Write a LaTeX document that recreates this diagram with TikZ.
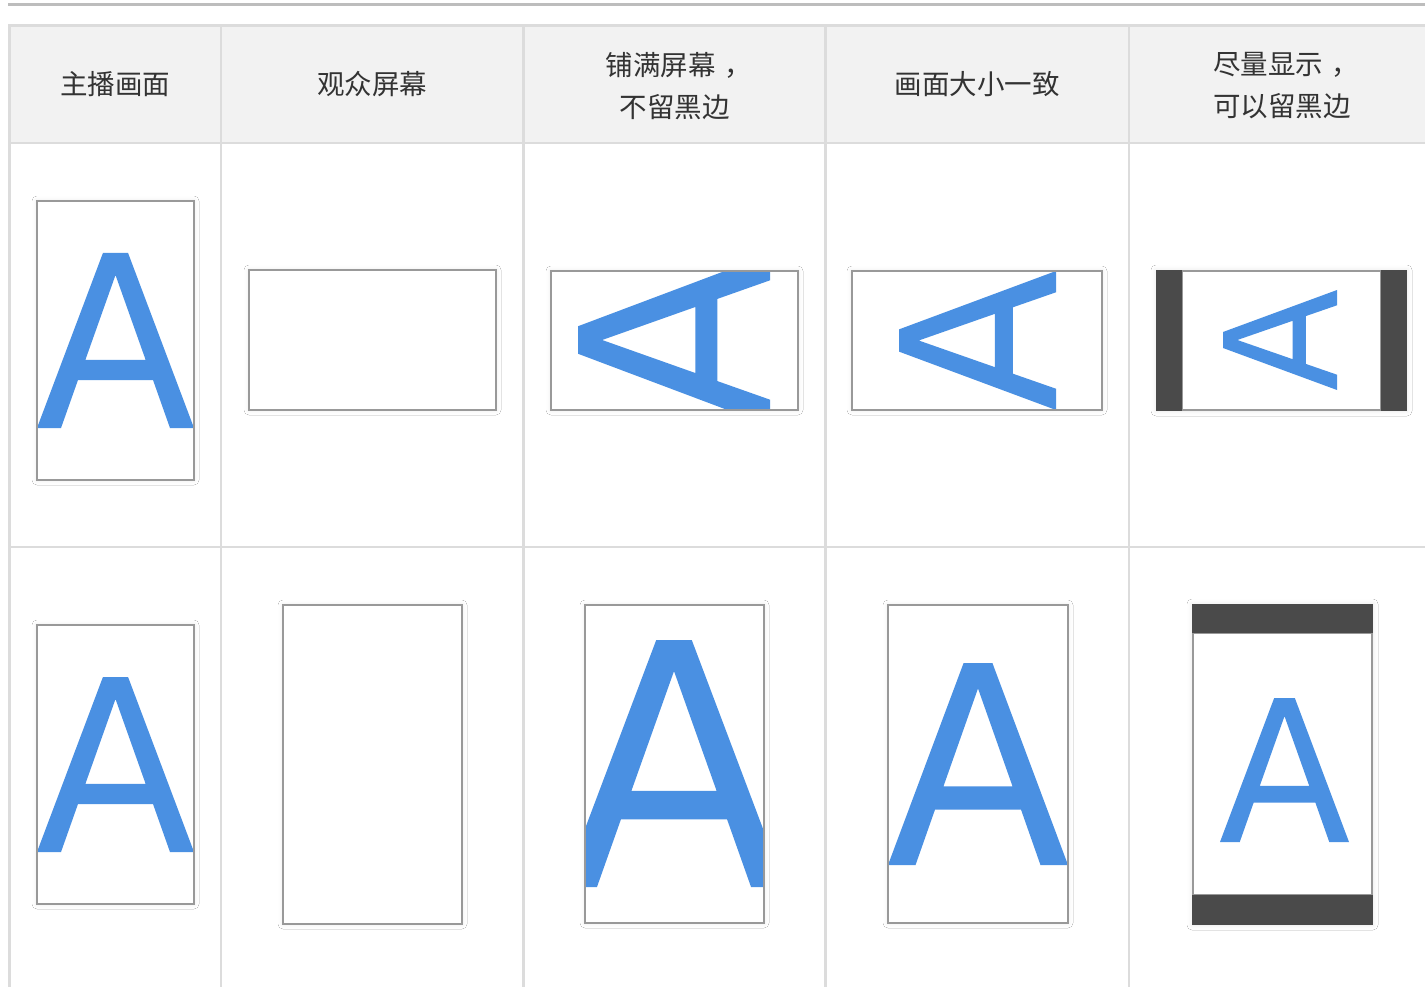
\documentclass[tikz,border=0pt]{standalone}
\usepackage{fontspec}
\newfontfamily\cjk{Noto Sans CJK SC}
\usetikzlibrary{shadows.blur}
\definecolor{rulec}{HTML}{BDBDBD}
\definecolor{gridc}{HTML}{DCDCDC}
\definecolor{headbg}{HTML}{F2F2F2}
\definecolor{txtc}{HTML}{333333}
\definecolor{framec}{HTML}{999999}
\definecolor{blueA}{HTML}{4A90E2}
\definecolor{barc}{HTML}{4A4A4A}
\tikzset{
  gridline/.style={draw=gridc, line width=2.5pt},
  head/.style={font=\cjk\fontsize{27.5}{42}\selectfont, text=txtc, align=center, inner sep=0pt},
  screenfill/.style={fill=white, blur shadow={shadow xshift=0pt, shadow yshift=0pt, shadow blur radius=5pt, shadow blur extra rounding=0pt, shadow opacity=9}},
  screenline/.style={draw=framec, line width=1.8pt},
  glyph/.style={fill=blueA, even odd rule},
  blackbar/.style={fill=barc},
}
\newcommand\letterA{%
  \fill[glyph] (0,0) -- (0.42,1) -- (0.58,1) -- (1,0) -- (0.847,0) -- (0.739,0.274)
    -- (0.261,0.274) -- (0.153,0) -- cycle
    (0.5,0.874) -- (0.308,0.389) -- (0.692,0.389) -- cycle;}
\newcommand\wcomma{\kern0.3em，\kern-0.3em}
\begin{document}
\begin{tikzpicture}[x=1pt,y=-1pt]
\useasboundingbox (0,0) rectangle (1425,987);
\fill[white] (0,0) rectangle (1425,987);
% top rule
\draw[rulec, line width=3pt] (8,4.5) -- (1425,4.5);
% header background
\fill[headbg] (9.5,25.5) rectangle (1425,143);
% grid
\draw[gridline] (8,25.5) -- (1425,25.5);
\draw[gridline] (8,143) -- (1425,143);
\draw[gridline] (8,547) -- (1425,547);
\foreach \gx in {9.5,221,523.5,825.5,1129}
  \draw[gridline] (\gx,24.3) -- (\gx,987);
% headers
\node[head] (h1) at (115,84) {主播画面};
\node[head] (h2) at (372,84) {观众屏幕};
\node[head] (h3) at (674.5,86) {铺满屏幕\wcomma\\不留黑边};
\node[head] (h4) at (977,84) {画面大小一致};
\node[head] (h5) at (1282,86) {尽量显示\wcomma\\可以留黑边};

% ===== Row 1 =====
% col 1
\path[screenfill] (37,201) rectangle (194,480);
\begin{scope}[shift={(37,428)}, x={(157pt,0pt)}, y={(0pt,175pt)}] \letterA \end{scope}
\draw[screenline] (37,201) rectangle (194,480);
% col 2
\path[screenfill] (249,270) rectangle (496,410);
\draw[screenline] (249,270) rectangle (496,410);
% col 3
\path[screenfill] (551,271) rectangle (798,410);
\begin{scope}
  \clip (551,271) rectangle (798,410);
  \begin{scope}[shift={(770,426)}, x={(0pt,172pt)}, y={(-192pt,0pt)}] \letterA \end{scope}
\end{scope}
\draw[screenline] (551,271) rectangle (798,410);
% col 4
\path[screenfill] (852,271) rectangle (1102,410);
\begin{scope}
  \clip (852,271) rectangle (1102,410);
  \begin{scope}[shift={(1056,410)}, x={(0pt,139pt)}, y={(-157pt,0pt)}] \letterA \end{scope}
\end{scope}
\draw[screenline] (852,271) rectangle (1102,410);
% col 5
\path[screenfill] (1156,270) rectangle (1407,411);
\begin{scope}[shift={(1337,390)}, x={(0pt,100pt)}, y={(-114pt,0pt)}] \letterA \end{scope}
\draw[screenline] (1182,271) rectangle (1381,410);
\fill[blackbar] (1156,270) rectangle (1182,411);
\fill[blackbar] (1381,270) rectangle (1407,411);

% ===== Row 2 =====
% col 1
\path[screenfill] (37,625) rectangle (194,904);
\begin{scope}[shift={(37,852)}, x={(157pt,0pt)}, y={(0pt,175pt)}] \letterA \end{scope}
\draw[screenline] (37,625) rectangle (194,904);
% col 2
\path[screenfill] (283,605) rectangle (462,924);
\draw[screenline] (283,605) rectangle (462,924);
% col 3
\path[screenfill] (585,605) rectangle (764,923);
\begin{scope}
  \clip (585,605) rectangle (764,923);
  \begin{scope}[shift={(563,887)}, x={(222pt,0pt)}, y={(0pt,247pt)}] \letterA \end{scope}
\end{scope}
\draw[screenline] (585,605) rectangle (764,923);
% col 4
\path[screenfill] (888,605) rectangle (1068,923);
\begin{scope}[shift={(888,865)}, x={(180pt,0pt)}, y={(0pt,202pt)}] \letterA \end{scope}
\draw[screenline] (888,605) rectangle (1068,923);
% col 5
\path[screenfill] (1192,604) rectangle (1373,925);
\begin{scope}[shift={(1220,842)}, x={(129pt,0pt)}, y={(0pt,144pt)}] \letterA \end{scope}
\draw[screenline] (1193,633) rectangle (1372,895);
\fill[blackbar] (1192,604) rectangle (1373,633);
\fill[blackbar] (1192,895) rectangle (1373,925);
\end{tikzpicture}
\end{document}
